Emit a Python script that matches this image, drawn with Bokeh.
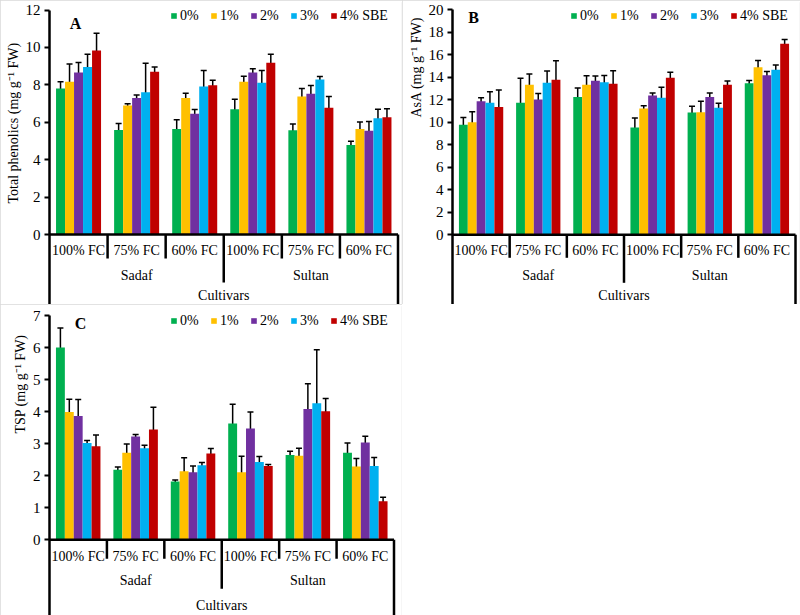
import math
from bokeh.plotting import figure
from bokeh.models import (ColumnDataSource, Range1d, FixedTicker, Whisker, TeeHead,
                          Label, Legend, LegendItem, Title)
from bokeh.layouts import column, row
from bokeh.transform import dodge
from bokeh.core.properties import value
from bokeh.embed import file_html
from bokeh.resources import INLINE

# ---------------- data ----------------
water_levels = ["100% FC", "75% FC", "60% FC", "100% FC", "75% FC", "60% FC"]
cultivars = ["Sadaf", "Sultan"]
outer_title = "Cultivars"
series = ["0%", "1%", "2%", "3%", "4% SBE"]
colors = ["#00B050", "#FFC000", "#7030A0", "#00B0F0", "#C00000"]

# Panel A: Total phenolics
phen_0 = [7.80, 5.59, 5.64, 6.70, 5.57, 4.79]
phen_1 = [8.16, 6.89, 7.29, 8.16, 7.38, 5.64]
phen_2 = [8.66, 7.29, 6.45, 8.66, 7.52, 5.55]
phen_3 = [8.95, 7.61, 7.91, 8.11, 8.29, 6.21]
phen_4 = [9.84, 8.70, 7.98, 9.18, 6.77, 6.27]
phen_e0 = [0.36, 0.34, 0.50, 0.53, 0.34, 0.20]
phen_e1 = [0.96, 0.10, 0.26, 0.30, 0.42, 0.38]
phen_e2 = [0.53, 0.16, 0.23, 0.20, 0.45, 0.49]
phen_e3 = [0.68, 1.54, 0.85, 0.66, 0.15, 0.49]
phen_e4 = [0.92, 0.25, 0.27, 0.46, 0.60, 0.45]

# Panel B: AsA
asa_0 = [9.78, 11.73, 12.24, 9.54, 10.87, 13.48]
asa_1 = [10.01, 13.33, 13.33, 11.23, 10.90, 14.90]
asa_2 = [11.88, 12.03, 13.69, 12.39, 12.24, 14.19]
asa_3 = [11.73, 13.51, 13.57, 12.18, 11.29, 14.67]
asa_4 = [11.35, 13.78, 13.42, 13.96, 13.33, 16.98]
asa_e0 = [0.65, 2.18, 0.81, 0.84, 0.55, 0.24]
asa_e1 = [0.92, 0.96, 0.81, 0.25, 0.98, 0.59]
asa_e2 = [0.31, 0.52, 0.43, 0.21, 0.37, 0.33]
asa_e3 = [0.99, 1.05, 0.59, 0.93, 0.40, 0.43]
asa_e4 = [1.53, 1.70, 1.16, 0.49, 0.34, 0.37]

# Panel C: TSP
tsp_0 = [6.00, 2.19, 1.82, 3.63, 2.65, 2.72]
tsp_1 = [3.99, 2.72, 2.14, 2.11, 2.62, 2.29]
tsp_2 = [3.86, 3.22, 2.11, 3.47, 4.08, 3.04]
tsp_3 = [3.02, 2.86, 2.33, 2.43, 4.26, 2.30]
tsp_4 = [2.92, 3.44, 2.69, 2.30, 4.01, 1.20]
tsp_e0 = [0.61, 0.08, 0.05, 0.60, 0.11, 0.30]
tsp_e1 = [0.40, 0.27, 0.42, 0.50, 0.24, 0.25]
tsp_e2 = [0.52, 0.07, 0.19, 0.52, 0.79, 0.19]
tsp_e3 = [0.08, 0.09, 0.08, 0.17, 1.67, 0.27]
tsp_e4 = [0.35, 0.70, 0.16, 0.05, 0.40, 0.13]

# ---------------- styling ----------------
FONT = "Liberation Serif"
BAR_W = 0.155


def make_panel(letter, ytitle, ymax, ystep, means, errs, g):
    W, H, left, right, top = g["W"], g["H"], g["left"], 1, 2
    ppx = (g["x6"] - left) / 6.0
    x_end = (W - right - left) / ppx
    ppy = (g["zero"] - g["ytop"]) / ymax
    y_start = -(H - g["zero"]) / ppy
    y_end = ymax + (g["ytop"] - top) / ppy

    p = figure(width=W, height=H, x_range=Range1d(0, x_end), y_range=Range1d(y_start, y_end),
               x_axis_location=None, toolbar_location=None, output_backend="svg",
               min_border_left=left, min_border_right=right, min_border_top=top,
               min_border_bottom=0,
               styles={"outline": "1px solid #d9d9d9", "outline-offset": "-1px"})
    p.xgrid.visible = False
    p.ygrid.visible = False
    p.outline_line_color = None
    p.background_fill_color = "white"
    p.border_fill_color = "white"

    ax = p.yaxis[0]
    ax.bounds = (y_start, ymax)
    ax.ticker = FixedTicker(ticks=list(range(0, ymax + 1, ystep)))
    ax.minor_tick_line_color = None
    ax.major_tick_out = 5
    ax.major_tick_in = 0
    ax.major_tick_line_width = 2
    ax.axis_line_width = 2.5
    ax.major_label_standoff = 4
    ax.major_label_text_font = FONT
    ax.major_label_text_font_size = "15px"
    ax.major_label_text_color = "black"

    centers = [i + 0.5 for i in range(6)]
    items = []
    for j, (s, c) in enumerate(zip(series, colors)):
        m = means[j]
        e = errs[j]
        src = ColumnDataSource(dict(x=centers, top=m,
                                    upper=[a + b for a, b in zip(m, e)],
                                    lower=[a - b for a, b in zip(m, e)]))
        off = (j - 2) * BAR_W
        r = p.vbar(x=dodge("x", off), top="top", bottom=0, width=BAR_W, source=src,
                   fill_color=c, line_color=None)
        items.append(LegendItem(label=s, renderers=[r]))
        wk = Whisker(base=dodge("x", off), upper="upper", lower="lower", source=src,
                     dimension="height", line_color="black", line_width=1.5,
                     upper_head=TeeHead(size=6, line_width=1.5, line_color="black"),
                     lower_head=TeeHead(size=6, line_width=1.5, line_color="black"))
        p.add_layout(wk)

    # category axis drawn below zero
    p.segment(x0=[0], y0=[0], x1=[6], y1=[0], line_color="black", line_width=2.5)
    inner = -g["inner"] / ppy
    mid = -g["mid"] / ppy
    p.segment(x0=[1, 2, 4, 5], y0=[0] * 4, x1=[1, 2, 4, 5], y1=[inner] * 4,
              line_color="black", line_width=2.5)
    p.segment(x0=[3], y0=[0], x1=[3], y1=[mid], line_color="black", line_width=2.5)
    p.segment(x0=[6], y0=[0], x1=[6], y1=[y_start], line_color="black", line_width=2.5)

    p.text(x=centers, y=[0] * 6, text=water_levels, y_offset=g["o1"],
           text_font=value(FONT), text_font_size="14px", text_align="center",
           text_baseline="middle", text_color="black")
    p.text(x=[1.5, 4.5], y=[0, 0], text=cultivars, y_offset=g["o2"],
           text_font=value(FONT), text_font_size="14px", text_align="center",
           text_baseline="middle", text_color="black")
    p.text(x=[3], y=[0], text=[outer_title], y_offset=g["o3"],
           text_font=value(FONT), text_font_size="14px", text_align="center",
           text_baseline="middle", text_color="black")

    # y title on the left side, starting at a given height
    p.add_layout(Title(text=ytitle, align="left", offset=H - g["tb"],
                       vertical_align="middle", standoff=2,
                       text_font=FONT, text_font_size="14px", text_font_style="normal",
                       text_color="black"), "left")
    # panel letter
    p.add_layout(Label(x=g["lx"] - left, y=H - g["ly"], x_units="screen", y_units="screen",
                       text=letter, text_align="center", text_baseline="middle",
                       text_font=FONT, text_font_size="16px", text_font_style="bold",
                       text_color="black"))

    h_est = 17
    legend = Legend(items=items, orientation="horizontal",
                    location=(g["gx"] - left, H - g["gy"] - h_est / 2),
                    glyph_width=7, glyph_height=7, label_standoff=3, spacing=10,
                    padding=0, margin=0, label_height=14,
                    label_text_font=FONT, label_text_font_size="14px",
                    label_text_color="black", border_line_color=None,
                    background_fill_alpha=0)
    p.add_layout(legend)
    return p


geomA = dict(W=402, H=304, left=49, x6=397.5, ytop=9.5, zero=234.0,
             inner=24, mid=48, o1=16, o2=41, o3=61,
             tb=203, lx=75, ly=23, gx=170, gy=15)
geomB = dict(W=398, H=304, left=50, x6=393, ytop=9.3, zero=234.3,
             inner=23, mid=48, o1=16, o2=41, o3=61,
             tb=117, lx=71, ly=17, gx=168, gy=15)
geomC = dict(W=402, H=311, left=49, x6=393.5, ytop=11, zero=235.3,
             inner=19, mid=49, o1=17, o2=41, o3=66,
             tb=129, lx=80, ly=19, gx=170, gy=16)

pA = make_panel("A", "Total phenolics (mg g\u207b\u00b9 FW)", 12, 2,
                [phen_0, phen_1, phen_2, phen_3, phen_4],
                [phen_e0, phen_e1, phen_e2, phen_e3, phen_e4], geomA)
pB = make_panel("B", "AsA (mg g\u207b\u00b9 FW)", 20, 2,
                [asa_0, asa_1, asa_2, asa_3, asa_4],
                [asa_e0, asa_e1, asa_e2, asa_e3, asa_e4], geomB)
pC = make_panel("C", "TSP (mg g\u207b\u00b9 FW)", 7, 1,
                [tsp_0, tsp_1, tsp_2, tsp_3, tsp_4],
                [tsp_e0, tsp_e1, tsp_e2, tsp_e3, tsp_e4], geomC)

layout = column(row(pA, pB), pC)
open("out.html", "w").write(file_html(layout, INLINE))
